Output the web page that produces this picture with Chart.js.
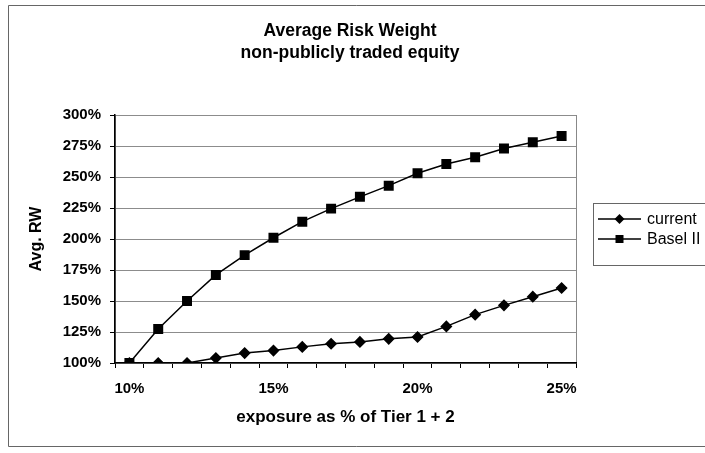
<!DOCTYPE html>
<html>
<head>
<meta charset="utf-8">
<script src="https://cdn.jsdelivr.net/npm/chart.js@4/dist/chart.umd.min.js"></script>
<style>
  html, body { margin: 0; padding: 0; background: #fff; }
  #wrap { width: 705px; height: 453px; }
</style>
</head>
<body>
<div id="wrap"><canvas id="rwChart" width="705" height="453"></canvas></div>
<script>
// exposure as % of Tier 1 + 2
const categories = [10, 11, 12, 13, 14, 15, 16, 17, 18, 19, 20, 21, 22, 23, 24, 25];
// average risk weight (%)
const currentRW = [100, 100, 100, 104, 108, 110, 113, 115.5, 117, 119.5, 121, 129.5, 139, 146.5, 153.5, 160.5];
const baselRW = [100, 127.5, 150, 171, 187, 201, 214, 224.5, 234, 243, 253, 260.5, 266, 273, 278, 283];
// axis labels
const xTickLabels = ['10%', '15%', '20%', '25%'];
const yMin = 100, yMax = 300, yStep = 25;
const titleLines = ['Average Risk Weight', 'non-publicly traded equity'];

const FONT = 'Arial, "Liberation Sans", sans-serif';

// frame, plot border, title and legend
const framePlugin = {
    id: 'frame',
    beforeDraw(chart) {
        const ctx = chart.ctx;
        const a = chart.chartArea;
        ctx.save();
        // outer frame (top, left, bottom)
        ctx.strokeStyle = '#666';
        ctx.lineWidth = 1;
        ctx.beginPath();
        ctx.moveTo(8.5, 446.5);
        ctx.lineTo(8.5, 5.5);
        ctx.lineTo(705, 5.5);
        ctx.moveTo(8.5, 446.5);
        ctx.lineTo(705, 446.5);
        ctx.stroke();
        // plot area border
        ctx.strokeStyle = '#888';
        ctx.strokeRect(Math.round(a.left) + 0.5, Math.round(a.top) + 0.5,
            Math.round(a.right - a.left), Math.round(a.bottom - a.top));
        ctx.restore();
    },
    afterDraw(chart) {
        const ctx = chart.ctx;
        ctx.save();
        // title
        ctx.fillStyle = '#000';
        ctx.font = 'bold 17.5px ' + FONT;
        ctx.textAlign = 'center';
        ctx.textBaseline = 'middle';
        titleLines.forEach((t, i) => ctx.fillText(t, 350, 31 + i * 22.5));

        // legend box
        ctx.strokeStyle = '#666';
        ctx.lineWidth = 1;
        ctx.strokeRect(593.5, 203.5, 130, 62);
        const items = [
            { label: 'current', shape: 'diamond', y: 219 },
            { label: 'Basel II', shape: 'square', y: 239 }
        ];
        items.forEach(it => {
            ctx.strokeStyle = '#000';
            ctx.lineWidth = 1.5;
            ctx.beginPath();
            ctx.moveTo(598, it.y);
            ctx.lineTo(641, it.y);
            ctx.stroke();
            ctx.fillStyle = '#000';
            ctx.beginPath();
            if (it.shape === 'diamond') {
                ctx.moveTo(619.5 - 5, it.y);
                ctx.lineTo(619.5, it.y - 5);
                ctx.lineTo(619.5 + 5, it.y);
                ctx.lineTo(619.5, it.y + 5);
                ctx.closePath();
            } else {
                ctx.rect(619.5 - 4, it.y - 4, 8, 8);
            }
            ctx.fill();
            ctx.font = '16px ' + FONT;
            ctx.textBaseline = 'middle';
            ctx.textAlign = 'left';
            ctx.fillText(it.label, 647, it.y + 1);
        });
        ctx.restore();
    }
};

const ctx = document.getElementById('rwChart').getContext('2d');
const rwChart = new Chart(ctx, {
    type: 'line',
    data: {
        labels: categories,
        datasets: [
            {
                label: 'current',
                data: currentRW,
                borderColor: '#000',
                backgroundColor: '#000',
                borderWidth: 1.5,
                pointStyle: 'rectRot',
                pointRadius: 5,
                pointHoverRadius: 5,
                tension: 0
            },
            {
                label: 'Basel II',
                data: baselRW,
                borderColor: '#000',
                backgroundColor: '#000',
                borderWidth: 1.5,
                pointStyle: 'rect',
                pointRadius: 6,
                pointHoverRadius: 6,
                tension: 0
            }
        ]
    },
    options: {
        responsive: false,
        animation: false,
        layout: { padding: { left: 0, right: 129, top: 115, bottom: 0 } },
        plugins: {
            legend: { display: false },
            tooltip: { enabled: false },
            title: { display: false }
        },
        scales: {
            x: {
                type: 'category',
                offset: true,
                afterFit(scale) { scale.height = 90; },
                grid: {
                    offset: true,
                    drawOnChartArea: false,
                    drawTicks: true,
                    tickLength: 5,
                    tickColor: '#000'
                },
                border: { color: '#000', width: 1.5 },
                ticks: {
                    autoSkip: false,
                    maxRotation: 0,
                    padding: 12,
                    color: '#000',
                    font: { family: FONT, size: 15, weight: 'bold' },
                    callback: function(value, index) {
                        const lab = categories[index] + '%';
                        return xTickLabels.includes(lab) ? lab : '';
                    }
                },
                title: {
                    display: true,
                    text: 'exposure as % of Tier 1 + 2',
                    color: '#000',
                    font: { family: FONT, size: 17, weight: 'bold' },
                    padding: { top: 0, bottom: 25 }
                }
            },
            y: {
                min: yMin,
                max: yMax,
                afterFit(scale) { scale.width = 115; },
                grid: {
                    color: '#8c8c8c',
                    lineWidth: 1,
                    tickLength: 5,
                    tickColor: '#000'
                },
                border: { color: '#000', width: 1.5 },
                ticks: {
                    stepSize: yStep,
                    padding: 9,
                    color: '#000',
                    font: { family: FONT, size: 15, weight: 'bold' },
                    callback: v => v + '%'
                },
                title: {
                    display: true,
                    text: 'Avg. RW',
                    color: '#000',
                    font: { family: FONT, size: 16, weight: 'bold' },
                    padding: { top: 27, bottom: 0 }
                }
            }
        }
    },
    plugins: [framePlugin]
});
</script>
</body>
</html>
